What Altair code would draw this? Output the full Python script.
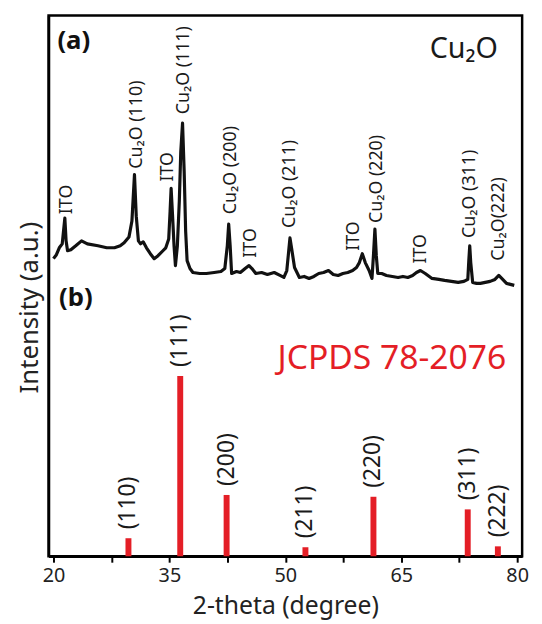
import altair as alt
import pandas as pd

# XRD pattern of the Cu2O film (a): 2-theta (deg) and intensity (a.u.)
xrd_theta = [
    20.0, 20.38, 20.75, 21.13, 21.47, 21.63, 21.82, 22.25, 22.88, 23.63,
    24.38, 25.76, 26.89, 27.89, 28.64, 29.14, 29.77, 30.15, 30.48, 30.71,
    30.99, 31.27, 31.61, 32.03, 32.53, 33.03, 33.53, 34.16, 34.53, 34.91,
    35.09, 35.22, 35.41, 35.60, 35.78, 36.03, 36.28, 36.47, 36.70, 36.91,
    37.10, 37.29, 37.66, 38.04, 38.92, 39.79, 40.79, 41.67, 42.17, 42.49,
    42.67, 42.86, 43.05, 43.68, 44.18, 44.80, 45.30, 45.68, 46.18, 46.93,
    47.68, 48.56, 49.31, 49.81, 50.19, 50.44, 50.60, 50.82, 51.19, 51.82,
    52.44, 53.07, 53.70, 54.32, 54.95, 55.58, 56.20, 56.83, 57.45, 58.08,
    58.71, 59.21, 59.58, 59.96, 60.34, 60.84, 61.21, 61.40, 61.59, 61.77,
    61.96, 62.47, 63.09, 63.84, 64.59, 65.22, 65.85, 66.47, 66.97, 67.48,
    68.10, 68.98, 69.86, 70.61, 71.49, 72.36, 73.11, 73.61, 73.74, 73.86,
    73.99, 74.24, 74.74, 75.24, 75.87, 76.50, 77.12, 77.62, 78.00, 78.62,
    79.12, 79.62,
]
xrd_intensity = [
    301, 305, 312, 316, 342, 319, 309, 310, 314, 319,
    316, 314, 312, 312, 314, 317, 323, 339, 386, 344,
    319, 316, 318, 312, 306, 301, 304, 309, 312, 321,
    349, 372, 344, 314, 294, 314, 359, 409, 438, 389,
    329, 299, 291, 287, 286, 286, 287, 288, 291, 314,
    336, 314, 286, 288, 287, 291, 294, 291, 286, 287,
    285, 287, 284, 282, 289, 309, 322, 311, 292, 282,
    283, 281, 283, 286, 287, 289, 285, 284, 286, 287,
    289, 292, 297, 306, 297, 289, 281, 304, 331, 304,
    286, 286, 284, 283, 282, 283, 282, 284, 287, 289,
    286, 281, 280, 279, 278, 277, 278, 280, 299, 314,
    297, 277, 276, 276, 277, 278, 280, 284, 281, 276,
    275, 274,
]

# Peak annotations of pattern (a)
xrd_labels = ["ITO", "Cu₂O (110)", "ITO", "Cu₂O (111)", "Cu₂O (200)", "ITO",
              "Cu₂O (211)", "ITO", "Cu₂O (220)", "ITO", "Cu₂O (311)", "Cu₂O(222)"]
xrd_label_theta = [21.7, 30.77, 34.78, 36.91, 42.92, 45.55, 50.56, 58.83, 61.84, 67.6, 73.86, 77.62]
xrd_label_intensity = [346, 392, 379, 447, 346, 302, 332, 309, 337, 296, 322, 299]

# Reference pattern (b) JCPDS 78-2076
jcpds_theta = [29.7, 36.4, 42.4, 52.6, 61.4, 73.6, 77.5]
jcpds_intensity = [10, 100, 34, 5, 33, 26, 5.5]
jcpds_hkl = ["(110)", "(111)", "(200)", "(211)", "(220)", "(311)", "(222)"]

# Panel annotations
panel_text = ["(a)", "(b)"]
panel_theta = [22.63, 22.9]
panel_intensity = [521, 261]
title_text = ["Cu₂O"]
title_theta = [73.1]
title_intensity = [504]
ref_text = ["JCPDS 78-2076"]
ref_theta = [63.78]
ref_intensity = [189]

x_ticks = [20, 27.5, 35, 42.5, 50, 57.5, 65, 72.5, 80]

FONT = "Noto Sans"
RED = "#e41e26"

xrd_df = pd.DataFrame({"theta": xrd_theta, "intensity": xrd_intensity})
xrd_lab_df = pd.DataFrame({"theta": xrd_label_theta, "intensity": xrd_label_intensity, "label": xrd_labels})
bar_df = pd.DataFrame({"theta": jcpds_theta, "intensity": jcpds_intensity, "label": jcpds_hkl})
panel_df = pd.DataFrame({"theta": panel_theta, "intensity": panel_intensity, "label": panel_text})
title_df = pd.DataFrame({"theta": title_theta, "intensity": title_intensity, "label": title_text})
ref_df = pd.DataFrame({"theta": ref_theta, "intensity": ref_intensity, "label": ref_text})

x_scale = alt.Scale(domain=[20, 80], nice=False, zero=False)
y_xrd = alt.Scale(domain=[0, 547], nice=False)
y_bar = alt.Scale(domain=[0, 300], nice=False)

x_axis = alt.Axis(
    values=x_ticks,
    labelExpr="datum.value % 15 == 5 ? datum.label : ''",
    title="2-theta (degree)",
    titleFontSize=25,
    labelFontSize=20,
    tickSize=6,
    labelPadding=4,
    labelFlush=False,
    titleY=50,
    titleBaseline="middle",
    grid=False,
)
y_axis = alt.Axis(
    title="Intensity (a.u.)",
    labels=False,
    ticks=False,
    grid=False,
    titleFontSize=26,
    titleAngle=270,
    titleX=-19,
    titleY=295,
    titleAlign="center",
    titleBaseline="middle",
)

X = alt.X("theta:Q", scale=x_scale, axis=x_axis)
Y_xrd = alt.Y("intensity:Q", scale=y_xrd, axis=y_axis)

line = alt.Chart(xrd_df).mark_line(color="#111111", strokeWidth=3.2, strokeJoin="round").encode(x=X, y=Y_xrd)

xrd_text = alt.Chart(xrd_lab_df).mark_text(
    angle=270, align="left", baseline="middle", fontSize=18, font=FONT, color="#1a1a1a"
).encode(x=X, y=Y_xrd, text="label:N")

panel = alt.Chart(panel_df).mark_text(
    align="center", baseline="middle", fontSize=26, fontWeight="bold", font=FONT, color="#111111"
).encode(x=X, y=Y_xrd, text="label:N")

title = alt.Chart(title_df).mark_text(
    align="center", baseline="alphabetic", fontSize=29, font=FONT, color="#1a1a1a"
).encode(x=X, y=Y_xrd, text="label:N")

ref = alt.Chart(ref_df).mark_text(
    align="center", baseline="alphabetic", fontSize=34, font=FONT, color=RED
).encode(x=X, y=Y_xrd, text="label:N")

top_layer = alt.layer(line, xrd_text, panel, title, ref)

bars = alt.Chart(bar_df).mark_bar(size=6, color=RED).encode(
    x=X, y=alt.Y("intensity:Q", scale=y_bar, axis=None)
)
bar_text = alt.Chart(bar_df).transform_calculate(
    label_y="datum.intensity + 5"
).mark_text(
    angle=270, align="left", baseline="middle", fontSize=23, font=FONT, color="#1a1a1a"
).encode(x=X, y=alt.Y("label_y:Q", scale=y_bar, axis=None), text="label:N")

bottom_layer = alt.layer(bars, bar_text)

chart = alt.layer(top_layer, bottom_layer).resolve_scale(y="independent").properties(
    width=479,
    height=547,
    padding={"left": 41, "top": 4, "right": 12, "bottom": 65},
    autosize=alt.AutoSizeParams(type="none"),
).configure(font=FONT).configure_view(
    stroke="black", strokeWidth=2.5
).configure_axis(
    domainColor="black", domainWidth=2.5, tickColor="black", tickWidth=2,
    labelColor="#222222", titleColor="#222222", labelFont=FONT, titleFont=FONT,
    titleFontWeight="normal",
)

chart.save("out.html", embed_options={"renderer": "svg", "actions": False})
